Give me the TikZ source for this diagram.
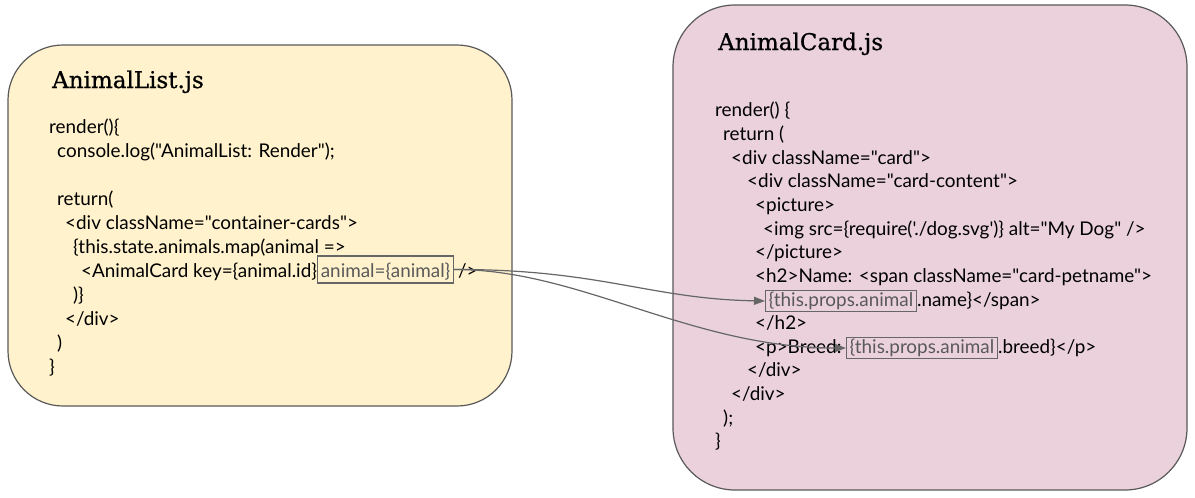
\documentclass[tikz,border=0pt]{standalone}
\usepackage{fontspec}
\usetikzlibrary{arrows.meta}
\newfontfamily\codefont{Lato}
\newfontfamily\titlefont[FakeBold=0.8]{DejaVu Serif}
\definecolor{panelY}{HTML}{FFF2CC}
\definecolor{panelP}{HTML}{EAD1DC}
\definecolor{edge}{HTML}{595959}
\definecolor{hlgray}{HTML}{666666}
\tikzset{
  panel/.style={draw=edge, line width=1.2pt, inner sep=0pt},
  title/.style={anchor=base west, inner sep=0pt, font=\titlefont\fontsize{23}{26}\selectfont},
  code/.style={anchor=base west, inner sep=0pt, font=\codefont\fontsize{18.9}{22}\selectfont},
  hlbox/.style={code, draw=hlgray, line width=1.2pt, text=edge, inner xsep=3pt},
  hlbig/.style={hlbox, text height=17pt, text depth=2pt, inner ysep=4pt},
  hlsmall/.style={hlbox, text height=12pt, text depth=2pt, inner ysep=3.5pt},
  link/.style={draw=hlgray, line width=1.2pt, -{Triangle[length=11pt,width=8pt]}}
}
\begin{document}
\begin{tikzpicture}[x=1pt,y=-1pt]
\useasboundingbox (0,0) rectangle (1195,498);
% panels
\node[panel, fill=panelY, rounded corners=55pt, minimum width=504pt, minimum height=361pt] (left) at (260,225.5) {};
\node[panel, fill=panelP, rounded corners=62pt, minimum width=514pt, minimum height=485pt] (right) at (930,247.5) {};
% titles
\node[title] (t1) at (52,88) {AnimalList.js};
\node[title] (t2) at (718,50) {AnimalCard.js};
% left code
\node[code] (l1) at (49,133) {render()\{};
\node[code] (l2) at (57,157) {console.log("AnimalList: Render");};
\node[code] (l3) at (57,205) {return(};
\node[code] (l4) at (65,229) {<div className="container-cards">};
\node[code] (l5) at (73,253) {\{this.state.animals.map(animal =>};
\node[code] (l6) at (81,277) {<AnimalCard key=\{animal.id\}};
\node[hlbig] (hl) at (l6.base east) {animal=\{animal\}};
\node[code] (l6b) at ([xshift=4pt]hl.base east) {/>};
\node[code] (l7) at (73,301) {)\}};
\node[code] (l8) at (65,325) {</div>};
\node[code] (l9) at (57,349) {)};
\node[code] (l10) at (49,373) {\}};
% right code
\node[code] (r1) at (715,116) {render() \{};
\node[code] (r2) at (723,140) {return (};
\node[code] (r3) at (731,164) {<div className="card">};
\node[code] (r4) at (747,187) {<div className="card-content">};
\node[code] (r5) at (755,211) {<picture>};
\node[code] (r6) at (763,235) {<img src=\{require({\char39}./dog.svg{\char39})\} alt="My Dog" />};
\node[code] (r7) at (755,258) {</picture>};
\node[code] (r8) at (755,282) {<h2>Name: <span className="card-petname">};
\node[hlsmall] (hn) at (765,306) {\{this.props.animal};
\node[code] (r9b) at (hn.base east) {.name\}</span>};
\node[code] (r10) at (755,329) {</h2>};
\node[code] (r11) at (755,353) {<p>Breed: };
\node[hlsmall] (hb) at (846,353) {\{this.props.animal};
\node[code] (r11b) at (hb.base east) {.breed\}</p>};
\node[code] (r12) at (747,376) {</div>};
\node[code] (r13) at (731,400) {</div>};
\node[code] (r14) at (723,424) {);};
\node[code] (r15) at (715,447) {\}};
% connectors
\draw[link] (hl.east) .. controls (600,269) and (650,299) .. (hn.west);
\draw[link] (hl.east) .. controls (580,269) and (690,348) .. (hb.west);
\end{tikzpicture}
\end{document}
